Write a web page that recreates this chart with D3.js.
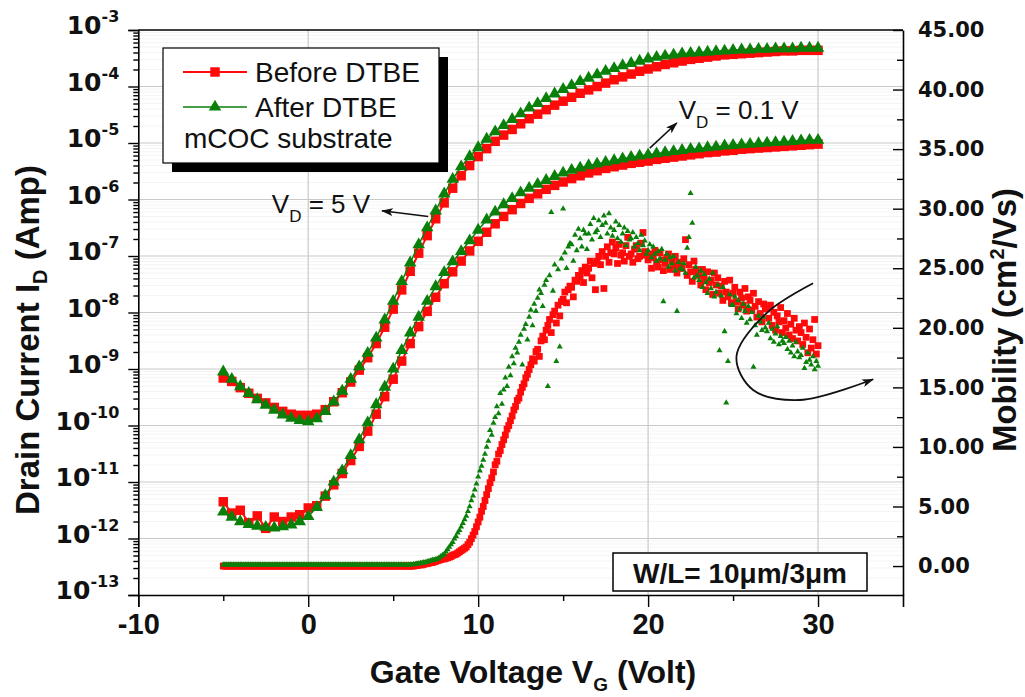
<!DOCTYPE html>
<html lang="en">
<head>
<meta charset="UTF-8">
<title>Drain current and mobility - before / after DTBE</title>
<script src="https://d3js.org/d3.v7.min.js"></script>
<style>
  body { margin: 0; background: #fff; }
  svg { display: block; font-family: "Liberation Sans", Arial, Helvetica, sans-serif; }
</style>
</head>
<body>
<svg id="vis" width="1025" height="697"></svg>
<script>
// I-V curves are sampled every 0.5 V, mobility every 0.1 V (from -5 V to 30 V)
const vgCurve = d3.range(0, 71).map(i => -5 + i * 0.5);
const vgMob = d3.range(0, 351).map(i => -5 + i * 0.1);

// log10 of drain current (A), V_D = 5 V
const id5Before = [
  -9.16,-9.22,-9.33,-9.43,-9.52,-9.6,-9.68,-9.75,-9.8,-9.82,
  -9.82,-9.8,-9.72,-9.58,-9.42,-9.23,-9.02,-8.8,-8.55,-8.26,
  -7.94,-7.6,-7.27,-6.95,-6.64,-6.34,-6.06,-5.8,-5.58,-5.4,
  -5.24,-5.1,-4.97,-4.86,-4.76,-4.66,-4.57,-4.49,-4.41,-4.33,
  -4.26,-4.19,-4.12,-4.06,-4.0,-3.94,-3.88,-3.83,-3.78,-3.73,
  -3.69,-3.65,-3.61,-3.58,-3.55,-3.52,-3.5,-3.48,-3.46,-3.44,
  -3.43,-3.42,-3.41,-3.4,-3.39,-3.38,-3.37,-3.37,-3.36,-3.36,
  -3.36
];
const id5After = [
  -9.05,-9.18,-9.31,-9.43,-9.54,-9.64,-9.73,-9.81,-9.87,-9.91,
  -9.93,-9.88,-9.75,-9.58,-9.39,-9.18,-8.96,-8.72,-8.45,-8.13,
  -7.8,-7.45,-7.12,-6.8,-6.5,-6.2,-5.9,-5.64,-5.42,-5.24,
  -5.08,-4.93,-4.8,-4.69,-4.58,-4.48,-4.38,-4.3,-4.21,-4.13,
  -4.05,-3.98,-3.91,-3.85,-3.79,-3.73,-3.68,-3.63,-3.59,-3.55,
  -3.51,-3.48,-3.46,-3.44,-3.42,-3.41,-3.4,-3.39,-3.38,-3.37,
  -3.36,-3.35,-3.35,-3.34,-3.34,-3.33,-3.33,-3.33,-3.32,-3.32,
  -3.32
];
// log10 of drain current (A), V_D = 0.1 V
const id01Before = [
  -11.35,-11.55,-11.5,-11.72,-11.6,-11.82,-11.62,-11.7,-11.62,-11.58,
  -11.46,-11.42,-11.25,-11.05,-10.85,-10.62,-10.37,-10.1,-9.8,-9.49,
  -9.18,-8.86,-8.55,-8.25,-7.98,-7.73,-7.49,-7.28,-7.09,-6.91,
  -6.74,-6.58,-6.43,-6.3,-6.18,-6.07,-5.98,-5.9,-5.82,-5.75,
  -5.69,-5.63,-5.58,-5.53,-5.49,-5.45,-5.42,-5.39,-5.36,-5.34,
  -5.32,-5.29,-5.27,-5.25,-5.23,-5.21,-5.19,-5.17,-5.16,-5.14,
  -5.13,-5.11,-5.1,-5.09,-5.08,-5.07,-5.06,-5.05,-5.04,-5.03,
  -5.02
];
const id01After = [
  -11.53,-11.62,-11.7,-11.75,-11.78,-11.8,-11.81,-11.79,-11.76,-11.7,
  -11.61,-11.45,-11.24,-11.0,-10.8,-10.53,-10.25,-9.95,-9.63,-9.32,
  -9.0,-8.67,-8.36,-8.08,-7.8,-7.54,-7.29,-7.1,-6.92,-6.73,
  -6.54,-6.36,-6.22,-6.09,-5.98,-5.88,-5.8,-5.73,-5.66,-5.59,
  -5.53,-5.48,-5.44,-5.4,-5.37,-5.34,-5.31,-5.28,-5.25,-5.23,
  -5.21,-5.19,-5.17,-5.15,-5.13,-5.11,-5.1,-5.08,-5.07,-5.05,
  -5.04,-5.03,-5.02,-5.01,-5.0,-4.99,-4.98,-4.97,-4.96,-4.95,
  -4.95
];

// mobility (cm2/Vs), one row per volt
const muBefore = [
  0,0,0,0,0,0,0,0,0,0,
  0,0,0,0,0,0,0,0,0,0,
  0,0,0,0,0,0,0,0,0,0,
  0,0,0,0,0,0,0,0,0,0,
  0,0,0,0,0,0,0,0,0,0,
  0,0,0,0,0,0,0,0,0,0,
  0,0,0,0,0,0,0,0,0,0,
  0,0,0,0,0,0,0,0,0,0,
  0,0,0,0,0,0,0,0,0,0,
  0,0,0,0,0,0,0,0,0,0,
  0,0,0,0,0,0,0,0,0,0,
  0,0,0,0.05,0.05,0.1,0.1,0.1,0.15,0.2,
  0.2,0.25,0.3,0.3,0.35,0.4,0.45,0.5,0.55,0.6,
  0.6,0.65,0.7,0.75,0.8,0.9,0.95,1.0,1.1,1.2,
  1.3,1.4,1.5,1.6,1.8,2.0,2.3,2.6,2.9,3.3,
  3.7,4.1,4.6,5.0,5.5,6.0,6.5,7.0,7.4,7.9,
  8.5,8.8,9.4,9.7,10.2,10.6,11.0,11.5,11.8,12.2,
  12.6,13.1,13.4,13.9,14.1,14.6,15.0,15.3,15.8,16.1,
  16.5,16.9,17.4,17.2,18.0,18.2,17.6,18.9,19.3,19.0,
  19.8,20.2,20.7,19.6,21.1,21.4,20.4,21.9,21.0,22.2,
  22.4,23.0,22.1,23.2,23.5,23.4,22.6,24.0,23.9,24.4,
  24.3,24.8,23.8,25.1,24.6,25.0,25.6,24.2,25.4,23.2,
  25.6,26.0,25.3,26.4,23.3,26.0,26.8,25.5,26.3,27.2,
  26.2,26.7,25.4,27.0,26.1,26.3,25.6,26.9,27.6,26.0,
  26.2,25.5,26.6,26.9,25.8,26.0,27.1,28.0,26.4,26.1,
  25.7,26.2,25.0,25.9,26.5,25.5,25.1,26.3,25.7,24.8,
  25.4,25.9,26.2,24.9,25.6,25.2,26.0,24.6,25.5,25.0,
  25.0,25.8,27.4,24.4,25.3,24.7,23.9,25.6,24.9,24.5,
  24.4,23.6,24.9,24.1,23.2,24.7,23.8,24.0,22.8,24.6,
  23.6,24.2,22.9,23.5,22.3,23.9,23.0,22.6,24.0,22.1,
  22.9,23.4,22.2,21.6,23.0,22.5,21.9,23.3,21.4,22.6,
  22.3,21.5,22.9,21.8,20.9,22.2,21.2,20.5,22.0,21.6,
  21.6,20.8,21.9,20.2,21.3,19.8,21.0,20.5,21.7,19.6,
  20.6,20.0,21.2,19.4,20.3,19.1,20.8,19.8,18.9,20.1,
  19.6,18.6,20.4,19.2,17.9,19.9,18.3,19.0,20.7,17.8,
  18.5
];
const muAfter = [
  0.1,0.1,0.1,0.1,0.1,0.1,0.1,0.1,0.1,0.1,
  0.1,0.1,0.1,0.1,0.1,0.1,0.1,0.1,0.1,0.1,
  0.1,0.1,0.1,0.1,0.1,0.1,0.1,0.1,0.1,0.1,
  0.1,0.1,0.1,0.1,0.1,0.1,0.1,0.1,0.1,0.1,
  0.1,0.1,0.1,0.1,0.1,0.1,0.1,0.1,0.1,0.1,
  0.1,0.1,0.1,0.1,0.1,0.1,0.1,0.1,0.1,0.1,
  0.1,0.1,0.1,0.1,0.1,0.1,0.1,0.1,0.1,0.1,
  0.1,0.1,0.1,0.1,0.1,0.1,0.1,0.1,0.1,0.1,
  0.1,0.1,0.1,0.1,0.1,0.1,0.1,0.1,0.1,0.1,
  0.1,0.1,0.1,0.1,0.1,0.1,0.1,0.1,0.1,0.1,
  0.1,0.1,0.1,0.1,0.1,0.1,0.1,0.1,0.1,0.1,
  0.1,0.1,0.15,0.15,0.2,0.2,0.25,0.25,0.3,0.3,
  0.35,0.4,0.45,0.5,0.5,0.55,0.6,0.7,0.8,0.9,
  1.0,1.2,1.4,1.6,1.8,2.0,2.3,2.5,2.8,3.0,
  3.3,3.6,3.9,4.2,4.6,5.0,5.5,5.9,6.4,6.9,
  7.5,8.0,8.4,8.9,9.4,10.0,10.5,11.4,11.0,12.0,
  12.5,13.4,12.8,14.5,13.6,14.8,15.8,15.1,16.7,16.0,
  17.6,17.0,18.3,17.9,18.8,19.4,16.9,19.9,20.3,19.0,
  20.9,21.5,20.2,22.0,21.4,22.5,23.2,22.9,21.8,23.6,
  24.0,15.1,24.4,29.7,23.1,25.3,17.2,24.9,18.4,25.8,
  30.0,26.3,25.0,26.8,27.1,27.0,25.6,27.8,26.5,28.3,
  27.5,26.8,28.2,27.9,26.6,27.9,28.7,27.4,29.2,28.0,
  28.2,29.0,27.6,28.6,29.4,28.8,27.9,29.6,28.4,27.7,
  28.2,28.9,27.5,28.6,27.2,27.9,28.4,26.9,28.1,27.4,
  27.5,28.0,26.8,27.6,27.1,26.5,27.8,26.9,27.3,26.2,
  26.5,27.0,25.9,26.8,26.2,25.6,26.4,25.8,26.6,22.2,
  25.7,26.2,25.1,25.9,25.4,26.0,24.8,21.4,25.5,25.0,
  24.9,25.4,24.6,26.7,27.6,31.3,28.8,24.2,25.1,24.4,
  24.0,24.8,23.4,24.5,23.8,22.9,24.1,23.3,24.6,22.6,
  23.0,23.6,18.1,22.7,23.4,19.7,13.7,17.2,22.8,21.9,
  21.9,22.6,21.2,22.3,21.6,20.8,22.0,21.4,20.4,21.8,
  20.7,21.3,16.7,20.2,19.4,21.0,20.5,19.8,20.9,20.0,
  19.7,20.4,19.1,19.9,18.8,19.5,20.1,18.6,19.3,18.9,
  18.7,19.2,18.2,18.9,17.9,18.5,17.6,18.8,18.0,17.5,
  17.7,18.3,16.6,17.1,17.9,17.3,16.9,17.6,16.5,17.2,
  16.8
];

const xTicks = [-10, 0, 10, 20, 30];
const xMinorTicks = [-5, 5, 15, 25];
const decades = [-13, -12, -11, -10, -9, -8, -7, -6, -5, -4, -3];
const muTicks = [0, 5, 10, 15, 20, 25, 30, 35, 40, 45];
const muMinorTicks = [2.5, 7.5, 12.5, 17.5, 22.5, 27.5, 32.5, 37.5, 42.5];

const red = "#ff0a0a";
const green = "#0a800a";

const svg = d3.select("#vis");
const plotLeft = 138.3, plotRight = 903, plotTop = 30, plotBottom = 595;

const x = d3.scaleLinear().domain([-10, 35]).range([plotLeft, plotRight]);
const yI = d3.scaleLog().domain([1e-13, 1e-3]).range([plotBottom, plotTop]);
const yMu = d3.scaleLinear().domain([-2.43, 45]).range([plotBottom, plotTop]);

const minorLog = [];
decades.slice(0, -1).forEach(k => {
    for (let m = 2; m <= 9; m++) minorLog.push(m * Math.pow(10, k));
});

// arrow head
svg.append("defs").append("marker")
    .attr("id", "head")
    .attr("viewBox", "0 0 12 8")
    .attr("refX", 11).attr("refY", 4)
    .attr("markerWidth", 12).attr("markerHeight", 8)
    .attr("markerUnits", "userSpaceOnUse")
    .attr("orient", "auto")
    .append("path").attr("d", "M0,0 L12,4 L0,8 L3,4 Z").attr("fill", "#111");

// grid
const grid = svg.append("g");
grid.selectAll(".minor").data(minorLog).join("line")
    .attr("x1", plotLeft).attr("x2", plotRight)
    .attr("y1", d => yI(d)).attr("y2", d => yI(d))
    .attr("stroke", "#e9e9e9").attr("stroke-width", 1)
    .attr("stroke-dasharray", "1,1");
grid.selectAll(".major").data(decades.slice(1, -1)).join("line")
    .attr("x1", plotLeft).attr("x2", plotRight)
    .attr("y1", d => yI(Math.pow(10, d))).attr("y2", d => yI(Math.pow(10, d)))
    .attr("stroke", "#c9c9c9").attr("stroke-width", 1.2);
grid.selectAll(".vert").data(xTicks.slice(1)).join("line")
    .attr("x1", d => x(d)).attr("x2", d => x(d))
    .attr("y1", plotTop).attr("y2", plotBottom)
    .attr("stroke", "#c9c9c9").attr("stroke-width", 1.2);

// mobility scatter
const sqSmall = d3.symbol().type(d3.symbolSquare).size(46);
const triSmall = d3.symbol().type(d3.symbolTriangle).size(16);
svg.append("g").selectAll("path").data(muBefore).join("path")
    .attr("d", sqSmall)
    .attr("transform", (d, i) => `translate(${x(vgMob[i])},${yMu(d)})`)
    .attr("fill", red);
svg.append("g").selectAll("path").data(muAfter).join("path")
    .attr("d", triSmall)
    .attr("transform", (d, i) => `translate(${x(vgMob[i])},${yMu(d)})`)
    .attr("fill", green);

// drain current curves
const line = d3.line()
    .x((d, i) => x(vgCurve[i]))
    .y(d => yI(Math.pow(10, d)));
const sqBig = d3.symbol().type(d3.symbolSquare).size(90);
const triBig = d3.symbol().type(d3.symbolTriangle).size(68);

function drawCurve(values, color, symbol, width) {
    const g = svg.append("g");
    g.append("path").datum(values)
        .attr("d", line)
        .attr("fill", "none")
        .attr("stroke", color)
        .attr("stroke-width", width);
    g.selectAll("path.m").data(values).join("path")
        .attr("class", "m")
        .attr("d", symbol)
        .attr("transform", (d, i) => `translate(${x(vgCurve[i])},${yI(Math.pow(10, d))})`)
        .attr("fill", color);
}
drawCurve(id01Before, red, sqBig, 2);
drawCurve(id5Before, red, sqBig, 2);
drawCurve(id01After, green, triBig, 1.5);
drawCurve(id5After, green, triBig, 1.5);

// axes
const fontAxis = "'Liberation Sans', Arial, sans-serif";
const fontWide = "'DejaVu Sans', Verdana, sans-serif";

const xAxis = svg.append("g").attr("transform", `translate(0,${plotBottom})`)
    .call(d3.axisBottom(x).tickValues(xTicks).tickSize(12).tickPadding(6).tickFormat(d => String(d)));
svg.append("g").attr("transform", `translate(0,${plotBottom})`)
    .call(d3.axisBottom(x).tickValues(xMinorTicks).tickSize(6).tickFormat(""))
    .select(".domain").remove();
xAxis.selectAll("text")
    .attr("font-size", 29).attr("font-weight", "bold")
    .attr("font-family", fontAxis).attr("fill", "#111");

const yAxis = svg.append("g").attr("transform", `translate(${plotLeft},0)`)
    .call(d3.axisLeft(yI).tickValues(decades.map(k => Math.pow(10, k))).tickSize(10).tickFormat(""));
svg.append("g").attr("transform", `translate(${plotLeft},0)`)
    .call(d3.axisLeft(yI).tickValues(minorLog).tickSize(5).tickFormat(""))
    .select(".domain").remove();
yAxis.selectAll(".tick text").each(function (d) {
    const t = d3.select(this).text(null)
        .attr("x", -19).attr("dy", "0.38em")
        .attr("font-family", fontWide).attr("font-weight", "bold")
        .attr("fill", "#111");
    t.append("tspan").attr("font-size", 25).text("10");
    t.append("tspan").attr("font-size", 16).attr("dy", -12)
        .text(Math.round(Math.log10(d)));
});

const muAxis = svg.append("g").attr("transform", `translate(${plotRight},0)`)
    .call(d3.axisRight(yMu).tickValues(muTicks).tickSizeInner(-10).tickSizeOuter(0)
        .tickPadding(15).tickFormat(d3.format(".2f")));
svg.append("g").attr("transform", `translate(${plotRight},0)`)
    .call(d3.axisRight(yMu).tickValues(muMinorTicks).tickSizeInner(-6).tickSizeOuter(0).tickFormat(""))
    .select(".domain").remove();
muAxis.selectAll("text")
    .attr("font-size", 21).attr("font-weight", "bold")
    .attr("font-family", fontWide).attr("fill", "#111");

svg.selectAll(".domain").attr("stroke-width", 1.6);
svg.selectAll(".tick line").attr("stroke-width", 1.4);

// top frame
svg.append("line")
    .attr("x1", plotLeft).attr("x2", plotRight).attr("y1", plotTop).attr("y2", plotTop)
    .attr("stroke", "#000").attr("stroke-width", 1.6);

// axis titles
const xTitle = svg.append("text")
    .attr("x", 533).attr("y", 683)
    .attr("text-anchor", "middle")
    .attr("font-size", 32).attr("font-weight", "bold").attr("fill", "#111");
xTitle.append("tspan").text("Gate Voltage V");
xTitle.append("tspan").attr("font-size", 19).attr("dy", 8).text("G");
xTitle.append("tspan").attr("dy", -8).text(" (Volt)");

const yTitle = svg.append("text")
    .attr("transform", "translate(39,340) rotate(-90)")
    .attr("text-anchor", "middle")
    .attr("font-size", 33).attr("font-weight", "bold").attr("fill", "#111");
yTitle.append("tspan").text("Drain Current I");
yTitle.append("tspan").attr("font-size", 20).attr("dy", 8).text("D");
yTitle.append("tspan").attr("dy", -8).text(" (Amp)");

const muTitle = svg.append("text")
    .attr("transform", "translate(1016,320) rotate(-90)")
    .attr("text-anchor", "middle")
    .attr("font-size", 33).attr("font-weight", "bold").attr("fill", "#111");
muTitle.append("tspan").text("Mobility (cm");
muTitle.append("tspan").attr("font-size", 20).attr("dy", -12).text("2");
muTitle.append("tspan").attr("dy", 12).text("/Vs)");

// annotations (data coordinates)
function label(vx, vy, main, sub, rest) {
    const t = svg.append("text")
        .attr("x", x(vx)).attr("y", yI(Math.pow(10, vy)))
        .attr("font-size", 26).attr("fill", "#111");
    t.append("tspan").text(main);
    t.append("tspan").attr("font-size", 17).attr("dy", 9).text(sub);
    t.append("tspan").attr("dy", -9).text(rest);
}
label(-2.14, -6.24, "V", "D", " = 5 V");
label(21.8, -4.575, "V", "D", " = 0.1 V");

const arrows = [
    [[7.06, -6.30], [4.34, -6.20]],
    [[20.1, -5.09], [21.69, -4.646]]
];
arrows.forEach(a => {
    svg.append("line")
        .attr("x1", x(a[0][0])).attr("y1", yI(Math.pow(10, a[0][1])))
        .attr("x2", x(a[1][0])).attr("y2", yI(Math.pow(10, a[1][1])))
        .attr("stroke", "#111").attr("stroke-width", 1.6)
        .attr("marker-end", "url(#head)");
});

// curved arrow pointing to the mobility axis
const curvePts = [[29.71, 23.74], [26.96, 21.22], [25.2, 17.57], [26.18, 14.78], [28.92, 13.94], [33.24, 15.68]];
svg.append("path")
    .attr("d", d3.line().x(d => x(d[0])).y(d => yMu(d[1])).curve(d3.curveCatmullRom)(curvePts))
    .attr("fill", "none").attr("stroke", "#111").attr("stroke-width", 1.8)
    .attr("marker-end", "url(#head)");

// legend
const lg = svg.append("g");
lg.append("rect").attr("x", 172).attr("y", 57).attr("width", 276).attr("height", 115).attr("fill", "#000");
lg.append("rect").attr("x", 163).attr("y", 48).attr("width", 276).attr("height", 115)
    .attr("fill", "#fff").attr("stroke", "#000").attr("stroke-width", 1.2);
const legendItems = [
    { name: "Before DTBE", color: red, symbol: sqBig, y: 72, width: 2 },
    { name: "After DTBE", color: green, symbol: triBig, y: 107, width: 1.5 }
];
legendItems.forEach(it => {
    lg.append("line").attr("x1", 183).attr("x2", 247).attr("y1", it.y).attr("y2", it.y)
        .attr("stroke", it.color).attr("stroke-width", it.width);
    lg.append("path").attr("d", it.symbol).attr("transform", `translate(215,${it.y})`).attr("fill", it.color);
    lg.append("text").attr("x", 255).attr("y", it.y + 10)
        .attr("font-size", 28).attr("fill", "#111").text(it.name);
});
lg.append("text").attr("x", 184).attr("y", 148)
    .attr("font-size", 28).attr("fill", "#111").text("mCOC substrate");

// W/L box
svg.append("rect").attr("x", 613).attr("y", 553).attr("width", 254).attr("height", 38)
    .attr("fill", "#fff").attr("stroke", "#000").attr("stroke-width", 1.5);
svg.append("text").attr("x", 740).attr("y", 583)
    .attr("text-anchor", "middle")
    .attr("font-size", 28).attr("font-weight", "bold").attr("fill", "#111")
    .text("W/L= 10\u03bcm/3\u03bcm");
</script>
</body>
</html>
